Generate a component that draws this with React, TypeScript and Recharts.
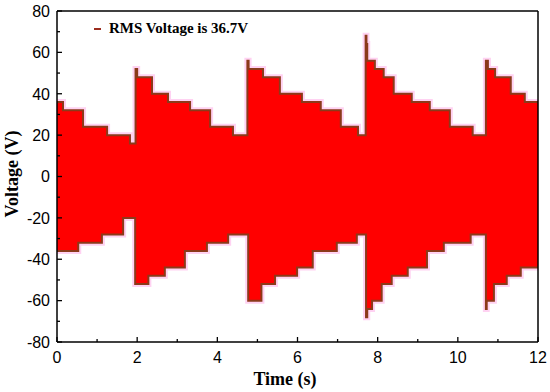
import { AreaChart, Area, XAxis, YAxis, ReferenceLine, Legend, Label } from "recharts";

// upper envelope of the waveform: step start time (s) and peak voltage (V)
const upperTimes = [0, 0.15, 0.65, 1.25, 1.82, 1.96, 2.0, 2.37, 2.77, 3.32, 3.82, 4.39, 4.75, 4.78, 5.14, 5.56, 6.11, 6.58, 7.08, 7.51, 7.7, 7.72, 7.74, 7.93, 8.15, 8.4, 8.85, 9.3, 9.8, 10.37, 10.7, 10.75, 10.93, 11.32, 11.67, 12];
const upperVolts = [36, 32, 24, 20, 16, 52, 48, 40, 36, 32, 24, 20, 56, 52, 48, 40, 36, 32, 24, 20, 68, 64, 56, 52, 48, 40, 36, 32, 24, 20, 56, 52, 48, 40, 36, 36];

// lower envelope
const lowerTimes = [0, 0.53, 1.12, 1.65, 1.95, 2.28, 2.69, 3.19, 3.74, 4.27, 4.77, 5.1, 5.44, 5.99, 6.38, 6.98, 7.48, 7.71, 7.74, 7.86, 8.1, 8.35, 8.75, 9.23, 9.65, 10.32, 10.7, 10.72, 10.9, 11.22, 11.57, 12];
const lowerVolts = [-36, -32, -28, -20, -52, -48, -44, -36, -32, -28, -60, -52, -48, -44, -36, -32, -28, -68, -64, -60, -52, -48, -44, -36, -32, -28, -64, -60, -52, -48, -44, -44];

const xTicks = [0, 1, 2, 3, 4, 5, 6, 7, 8, 9, 10, 11, 12];
const yTicks = [-80, -70, -60, -50, -40, -30, -20, -10, 0, 10, 20, 30, 40, 50, 60, 70, 80];

const legendText = "RMS Voltage is 36.7V";

const holdAt = (ts: number[], vs: number[], t: number) => {
  let v = vs[0];
  for (let i = 0; i < ts.length; i++) if (ts[i] <= t) v = vs[i];
  return v;
};

const times = Array.from(new Set([...upperTimes, ...lowerTimes])).sort((a, b) => a - b);
const data = times.map((t) => ({
  t,
  hi: holdAt(upperTimes, upperVolts, t),
  lo: holdAt(lowerTimes, lowerVolts, t),
}));

const tickFont = { fontFamily: "'Liberation Sans', Arial, sans-serif", fontSize: 16, fill: "#000" };
const titleFont = { fontFamily: "'Liberation Serif', 'Times New Roman', serif", fontSize: 18, fontWeight: 700, fill: "#000" };

const RED = "#ff0000";
const EDGE = "#8b3a1a";
const HALO = "#ffd2f2";

function XTick(props: any) {
  const { x, y, payload } = props;
  const major = payload.value % 2 === 0;
  return (
    <g>
      <line x1={x} y1={y} x2={x} y2={y - (major ? 5 : 3)} stroke="#000" strokeWidth={1.3} />
      {major && (
        <text x={x} y={y + 10} dy="0.71em" textAnchor="middle" {...tickFont}>
          {payload.value}
        </text>
      )}
    </g>
  );
}

function YTick(props: any) {
  const { x, y, payload } = props;
  const major = payload.value % 20 === 0;
  return (
    <g>
      <line x1={x} y1={y} x2={x + (major ? 5 : 3)} y2={y} stroke="#000" strokeWidth={1.3} />
      {major && (
        <text x={x - 7} y={y} dy="0.36em" textAnchor="end" {...tickFont}>
          {payload.value}
        </text>
      )}
    </g>
  );
}

export default function App() {
  return (
    <div style={{ position: "absolute", left: 0, top: 0, width: 550, height: 392, background: "#fff" }}>
      <AreaChart width={550} height={392} data={data} margin={{ top: 11, right: 12, left: 0, bottom: 0 }}>
        <XAxis
          dataKey="t"
          type="number"
          domain={[0, 12]}
          ticks={xTicks}
          interval={0}
          tickSize={0}
          tickMargin={0}
          tickLine={false}
          tick={(p: any) => <XTick {...p} />}
          height={50}
          axisLine={{ stroke: "#000", strokeWidth: 1.5 }}
        >
          <Label
            content={() => (
              <text x={285} y={385} textAnchor="middle" {...titleFont}>
                Time (s)
              </text>
            )}
          />
        </XAxis>
        <YAxis
          type="number"
          domain={[-80, 80]}
          ticks={yTicks}
          interval={0}
          tickSize={0}
          tickMargin={0}
          tickLine={false}
          tick={(p: any) => <YTick {...p} />}
          width={57}
          axisLine={{ stroke: "#000", strokeWidth: 1.5 }}
        >
          <Label
            content={() => (
              <text x={18} y={174} textAnchor="middle" transform="rotate(-90 18 174)" {...titleFont}>
                Voltage (V)
              </text>
            )}
          />
        </YAxis>
        <ReferenceLine y={80} stroke="#000" strokeWidth={1.5} />
        <ReferenceLine x={12} stroke="#000" strokeWidth={1.5} />

        {/* pale fringe around the envelope */}
        <Area dataKey="hi" type="stepAfter" baseValue={0} fill="none" stroke={HALO} strokeWidth={6} dot={false} activeDot={false} isAnimationActive={false} />
        <Area dataKey="lo" type="stepAfter" baseValue={0} fill="none" stroke={HALO} strokeWidth={6} dot={false} activeDot={false} isAnimationActive={false} />
        {/* filled band between lower and upper envelope */}
        <Area dataKey={(d: any) => [d.lo, d.hi]} type="stepAfter" fill={RED} fillOpacity={1} stroke="none" dot={false} activeDot={false} isAnimationActive={false} />
        {/* dark edges */}
        <Area dataKey="hi" type="stepAfter" baseValue={0} fill="none" stroke={EDGE} strokeWidth={2} dot={false} activeDot={false} isAnimationActive={false} />
        <Area dataKey="lo" type="stepAfter" baseValue={0} fill="none" stroke={EDGE} strokeWidth={2} dot={false} activeDot={false} isAnimationActive={false} />

        <Legend
          layout="horizontal"
          verticalAlign="middle"
          align="center"
          wrapperStyle={{ left: 94, top: 20, width: 250 }}
          content={() => (
            <div style={{ display: "flex", alignItems: "center", fontFamily: "'Liberation Serif', 'Times New Roman', serif", fontWeight: 700, fontSize: 15, color: "#000" }}>
              <span style={{ display: "inline-block", width: 7, height: 2, background: "#9b2d1f", marginRight: 8 }} />
              {legendText}
            </div>
          )}
        />
      </AreaChart>
    </div>
  );
}
